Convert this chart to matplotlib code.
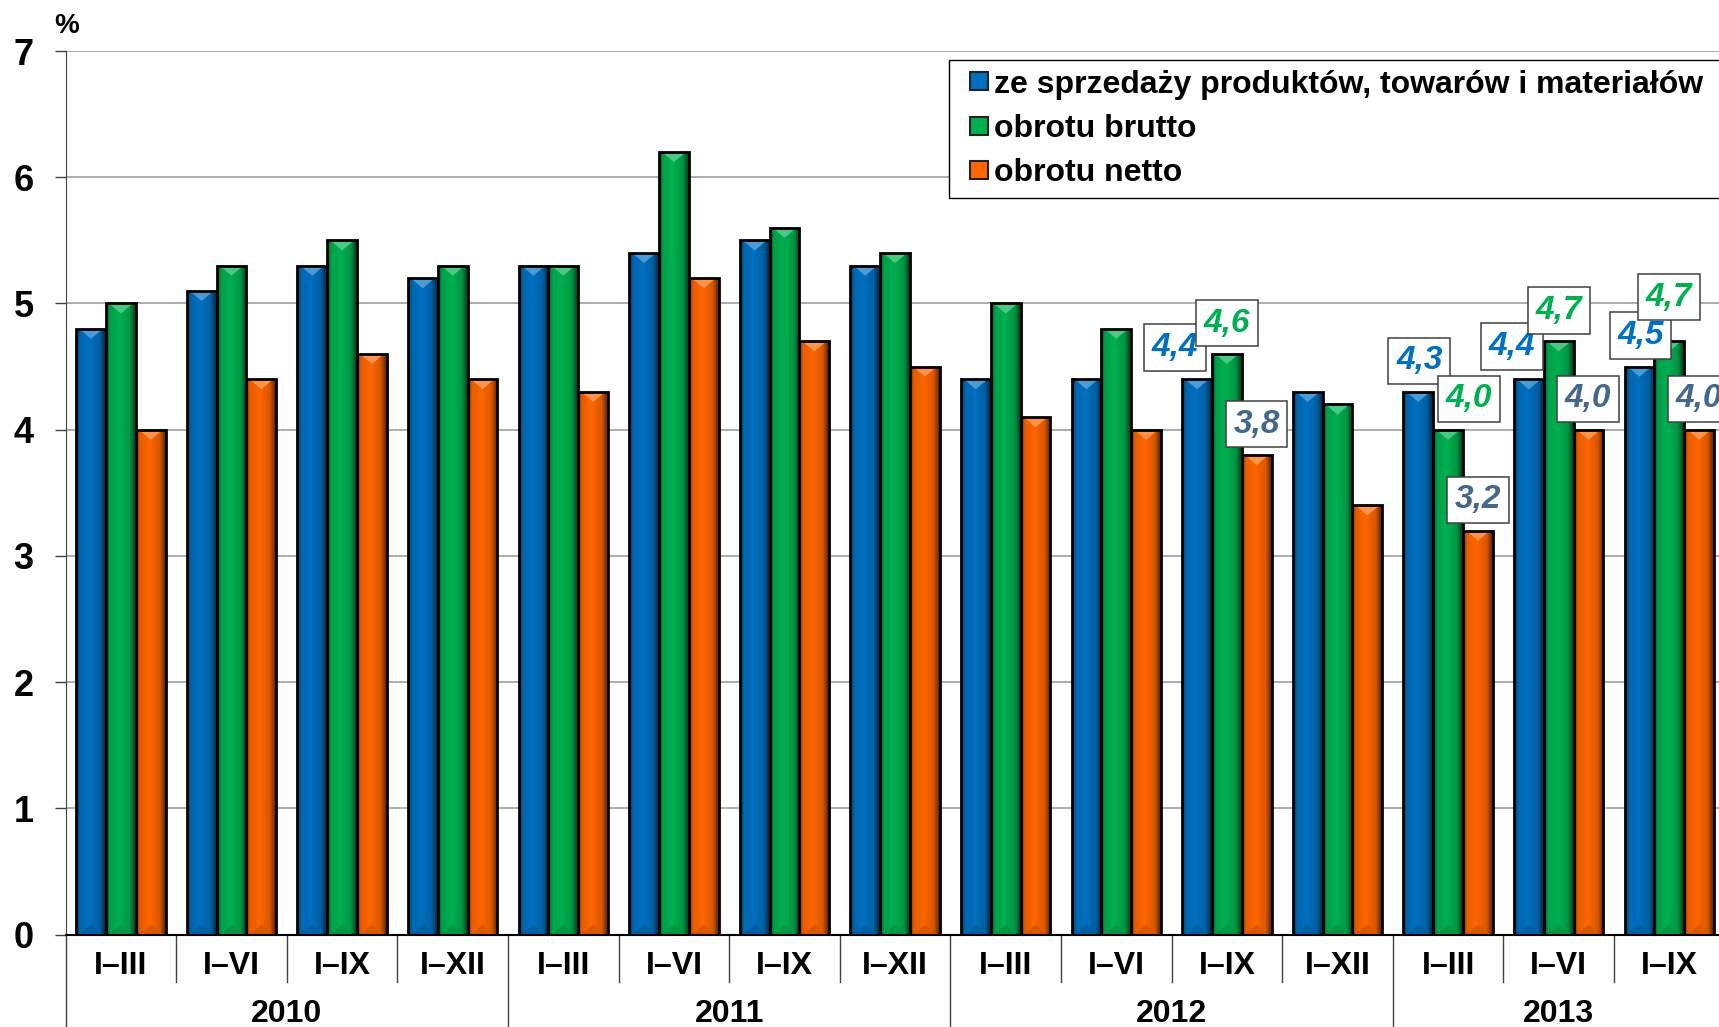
import numpy as np
import matplotlib
matplotlib.use('Agg')
import matplotlib.pyplot as plt
import matplotlib.colors as mcolors
from matplotlib.patches import Polygon
from matplotlib.lines import Line2D

# dane: wskaznik rentownosci (%)
periods = ['I–III', 'I–VI', 'I–IX', 'I–XII'] * 3 + ['I–III', 'I–VI', 'I–IX']
years = ['2010', '2011', '2012', '2013']
year_len = [4, 4, 4, 3]

sprzedaz = [4.8, 5.1, 5.3, 5.2, 5.3, 5.4, 5.5, 5.3, 4.4, 4.4, 4.4, 4.3, 4.3, 4.4, 4.5]
brutto = [5.0, 5.3, 5.5, 5.3, 5.3, 6.2, 5.6, 5.4, 5.0, 4.8, 4.6, 4.2, 4.0, 4.7, 4.7]
netto = [4.0, 4.4, 4.6, 4.4, 4.3, 5.2, 4.7, 4.5, 4.1, 4.0, 3.8, 3.4, 3.2, 4.0, 4.0]

series_names = ['ze sprzedaży produktów, towarów i materiałów', 'obrotu brutto', 'obrotu netto']
colors = ['#0070C0', '#00B050', '#FF6600']
label_colors = ['#0070C0', '#00B050', '#44688A']

# ktore slupki maja ramke z wartoscia: (grupa, seria, dx od srodka grupy, dy nad slupkiem)
boxed = [(10, 0, -0.47, 0.25), (10, 1, 0.0, 0.245), (10, 2, 0.268, 0.245),
         (12, 0, -0.26, 0.245), (12, 1, 0.19, 0.245), (12, 2, 0.27, 0.245),
         (13, 0, -0.42, 0.26), (13, 1, 0.0, 0.245), (13, 2, 0.265, 0.245),
         (14, 0, -0.26, 0.245), (14, 1, 0.0, 0.35), (14, 2, 0.265, 0.245)]

plt.rcParams['font.family'] = ['Liberation Sans', 'DejaVu Sans']

W, H = 1719, 1027
fig = plt.figure(figsize=(W / 100, H / 100), dpi=100)
x0, x1 = 65.6, 1724.6
y0, y1 = 934.6, 51
ax = fig.add_axes([x0 / W, 1 - y0 / H, (x1 - x0) / W, (y0 - y1) / H])

n = len(periods)
x = np.arange(n)
bw = 0.27
data = [sprzedaz, brutto, netto]


def shade(ax, patch, color):
    # poziomy gradient + jasny trojkat u gory
    bx, by = patch.get_x(), patch.get_y()
    w, h = patch.get_width(), patch.get_height()
    rgb = np.array(mcolors.to_rgb(color))
    prof = np.interp(np.linspace(0, 1, 40), [0, 0.12, 0.45, 0.8, 1], [0.45, 0.9, 1.0, 0.85, 0.35])
    img = np.clip(rgb[None, :] * prof[:, None], 0, 1)[None, :, :]
    im = ax.imshow(img, extent=(bx, bx + w, by, by + h), aspect='auto',
                   interpolation='bilinear', zorder=2.2)
    im.set_clip_path(patch)
    light = np.clip(rgb + (1 - rgb) * 0.3, 0, 1)
    tri = Polygon([(bx + 0.1 * w, by + h), (bx + 0.9 * w, by + h), (bx + 0.5 * w, by + h - 0.08)],
                  closed=True, facecolor=light, edgecolor='none', zorder=2.3)
    ax.add_patch(tri)
    low = np.clip(rgb * 0.85, 0, 1)
    tri2 = Polygon([(bx + 0.1 * w, by), (bx + 0.9 * w, by), (bx + 0.5 * w, by + 0.08)],
                   closed=True, facecolor=low, edgecolor='none', zorder=2.3)
    ax.add_patch(tri2)


for k in range(3):
    pos = x + (k - 1) * bw
    bars = ax.bar(pos, data[k], bw, color=colors[k], zorder=2, linewidth=0)
    for b in bars:
        shade(ax, b, colors[k])
    ax.bar(pos, data[k], bw, fill=False, edgecolor='black', linewidth=2, zorder=3)

for g, s, dx, dy in boxed:
    v = data[s][g]
    ax.text(g + dx, v + dy, ('%.1f' % v).replace('.', ','), color=label_colors[s],
            fontsize=24, fontweight='bold', fontstyle='italic', ha='center', va='center',
            zorder=6, bbox=dict(boxstyle='square,pad=0.23', facecolor='white',
                                edgecolor='#404040', linewidth=1.1))

ax.set_xlim(-0.5, n - 0.5)
ax.set_ylim(0, 7)
ax.set_yticks(range(8))
ax.set_yticklabels([str(i) for i in range(8)], fontsize=26, fontweight='bold')
ax.tick_params(axis='y', direction='out', length=8, width=1, pad=15, color='#404040')
ax.yaxis.grid(True, color='#A6A6A6', linewidth=1.3, zorder=0)
ax.set_axisbelow(True)
ax.set_xticks([])
for sp in ['top', 'right']:
    ax.spines[sp].set_visible(False)
ax.spines['left'].set_color('#404040')
ax.spines['bottom'].set_linewidth(1.5)

# podpisy osi X: okresy i lata
tr = ax.get_xaxis_transform()
for i, p in enumerate(periods):
    ax.text(i, -0.0446, p, transform=tr, ha='center', va='baseline',
            fontsize=23, fontweight='bold')
start = 0
year_edges = [-0.5]
for yr, ln in zip(years, year_len):
    ax.text(start + (ln - 1) / 2, -0.0989, yr, transform=tr, ha='center', va='baseline',
            fontsize=23, fontweight='bold')
    start += ln
    year_edges.append(start - 0.5)
for e in np.arange(-0.5, n, 1.0):
    low = -0.105 if e in year_edges else -0.0536
    ax.plot([e, e], [0, low], transform=tr, color='#404040', linewidth=1, clip_on=False)

fig.text(54 / W, 1 - 33 / H, '%', fontsize=20, fontweight='bold', ha='left', va='baseline')

handles = [Line2D([], [], linestyle='none', marker='s', markersize=13, markerfacecolor=c,
                  markeredgecolor='#222222', markeredgewidth=1.5) for c in colors]
leg = fig.legend(handles, series_names, loc='upper left',
                 bbox_to_anchor=(949 / W, 1 - 60 / H, 820 / W, 0), mode='expand',
                 prop={'weight': 'bold', 'size': 23},
                 handlelength=1.25, handletextpad=-0.15, labelspacing=0.45,
                 borderpad=0.3, borderaxespad=0, fancybox=False, framealpha=1, edgecolor='black')
leg.get_frame().set_linewidth(1)

fig.savefig('out.png', dpi=100)
